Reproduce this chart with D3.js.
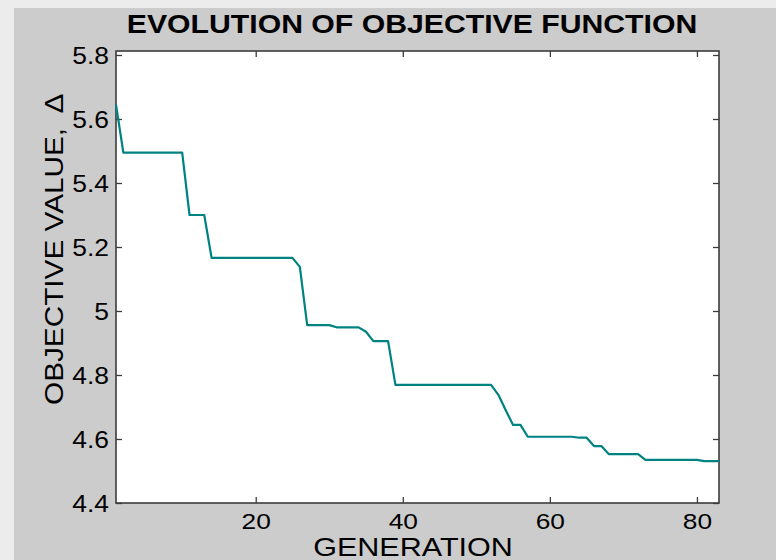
<!DOCTYPE html>
<html>
<head>
<meta charset="utf-8">
<script src="https://cdn.jsdelivr.net/npm/d3@7/dist/d3.min.js"></script>
<style>
  html, body { margin: 0; padding: 0; background: #ececec; }
  svg { display: block; }
  text { font-family: "Liberation Sans", Arial, Helvetica, sans-serif; fill: #000; }
</style>
</head>
<body>
<svg id="chart" width="776" height="560"></svg>
<script>
// Best objective value found at each generation of the optimiser
const generations = d3.range(1, 84);
const objective = [
  5.645,
  5.495, 5.495, 5.495, 5.495, 5.495, 5.495, 5.495, 5.495, 5.495,
  5.300, 5.300, 5.300,
  5.166, 5.166, 5.166, 5.166, 5.166, 5.166, 5.166, 5.166, 5.166, 5.166, 5.166, 5.166,
  5.138,
  4.956, 4.956, 4.956, 4.956,
  4.949, 4.949, 4.949, 4.949,
  4.935,
  4.906, 4.906, 4.906,
  4.769, 4.769, 4.769, 4.769, 4.769, 4.769, 4.769, 4.769, 4.769, 4.769, 4.769, 4.769, 4.769, 4.769,
  4.738,
  4.690,
  4.644, 4.644,
  4.607, 4.607, 4.607, 4.607, 4.607, 4.607, 4.607,
  4.604, 4.604,
  4.578, 4.578,
  4.553, 4.553, 4.553, 4.553, 4.553,
  4.535, 4.535, 4.535, 4.535, 4.535, 4.535, 4.535, 4.535,
  4.531, 4.531, 4.531
];
const xTicks = [20, 40, 60, 80];
const yTicks = [4.4, 4.6, 4.8, 5.0, 5.2, 5.4, 5.6, 5.8];
const titleText = "EVOLUTION OF OBJECTIVE FUNCTION";
const xLabelText = "GENERATION";
const yLabelText = "OBJECTIVE VALUE,";
const yLabelSymbol = "\u0394";

const svg = d3.select("#chart");

// figure panel
svg.append("rect")
  .attr("x", 14).attr("y", 8)
  .attr("width", 762).attr("height", 552)
  .attr("fill", "#cccccc");

const plot = { left: 116, right: 719, top: 51, bottom: 503 };

const x = d3.scaleLinear().domain([1, 83]).range([plot.left, plot.right]);
const y = d3.scaleLinear().domain([4.4, 5.8125]).range([plot.bottom, plot.top]);

// axes background
svg.append("rect")
  .attr("x", plot.left).attr("y", plot.top)
  .attr("width", plot.right - plot.left).attr("height", plot.bottom - plot.top)
  .attr("fill", "#ffffff");

const axisColor = "#3c3c3c";

function styleAxis(g) {
  g.select(".domain").remove();
  g.selectAll(".tick line").attr("stroke", axisColor).attr("stroke-width", 1.3);
}

// bottom axis with labels
svg.append("g")
  .attr("transform", `translate(0,${plot.bottom})`)
  .call(d3.axisBottom(x).tickValues(xTicks).tickSizeInner(-6).tickSizeOuter(0).tickFormat(d3.format("d")))
  .call(styleAxis)
  .call(g => g.selectAll(".tick text")
    .attr("y", null).attr("dy", null)
    .attr("transform", "translate(0,26) scale(1.17,1)")
    .attr("text-anchor", "middle")
    .style("font-size", "22.5px"));

// top axis (ticks only)
svg.append("g")
  .attr("transform", `translate(0,${plot.top})`)
  .call(d3.axisTop(x).tickValues(xTicks).tickSizeInner(-6).tickSizeOuter(0).tickFormat(""))
  .call(styleAxis);

// left axis with labels
svg.append("g")
  .attr("transform", `translate(${plot.left},0)`)
  .call(d3.axisLeft(y).tickValues(yTicks).tickSizeInner(-6).tickSizeOuter(0).tickFormat(d => d === 5 ? "5" : d3.format(".1f")(d)))
  .call(styleAxis)
  .call(g => g.selectAll(".tick text")
    .attr("x", null).attr("dy", null)
    .attr("transform", "translate(-7,8) scale(1.15,1)")
    .attr("text-anchor", "end")
    .style("font-size", "23px"));

// right axis (ticks only)
svg.append("g")
  .attr("transform", `translate(${plot.right},0)`)
  .call(d3.axisRight(y).tickValues(yTicks).tickSizeInner(-6).tickSizeOuter(0).tickFormat(""))
  .call(styleAxis);

// axes box
svg.append("rect")
  .attr("x", plot.left).attr("y", plot.top)
  .attr("width", plot.right - plot.left).attr("height", plot.bottom - plot.top)
  .attr("fill", "none")
  .attr("stroke", axisColor)
  .attr("stroke-width", 1.6);

// objective curve
const line = d3.line()
  .x((d, i) => x(generations[i]))
  .y(d => y(d));

svg.append("path")
  .datum(objective)
  .attr("d", line)
  .attr("fill", "none")
  .attr("stroke", "#008282")
  .attr("stroke-width", 2.2)
  .attr("stroke-linejoin", "round");

// title
svg.append("text")
  .attr("transform", "translate(412,33) scale(1.185,1)")
  .attr("text-anchor", "middle")
  .style("font-size", "25.5px")
  .style("font-weight", "bold")
  .text(titleText);

// x label
svg.append("text")
  .attr("transform", "translate(413,556) scale(1.175,1)")
  .attr("text-anchor", "middle")
  .style("font-size", "26px")
  .text(xLabelText);

// y label
const yl = svg.append("text")
  .attr("transform", "translate(62.5,405) rotate(-90) scale(1.19,1)")
  .attr("text-anchor", "start")
  .style("font-size", "25px");
yl.append("tspan").text(yLabelText);
yl.append("tspan").attr("dx", 12).text(yLabelSymbol);
</script>
</body>
</html>
